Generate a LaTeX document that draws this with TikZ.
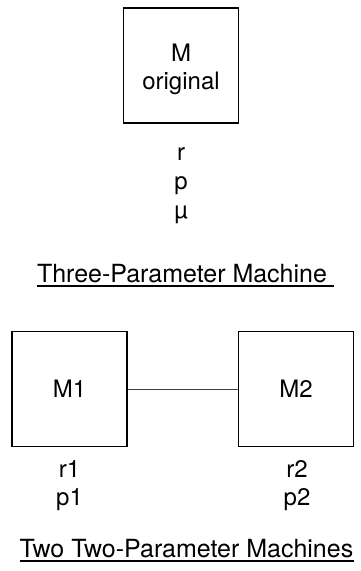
\documentclass[tikz,border=0pt]{standalone}
\usepackage{fontspec}
\setmainfont{TeX Gyre Heros}
\begin{document}
\begin{tikzpicture}[x=1pt,y=-1pt,
  machine/.style={draw, line width=1.3pt, minimum width=115pt, minimum height=115pt, inner sep=0pt},
  lbl/.style={inner sep=0pt, anchor=base, font=\fontsize{24}{28}\selectfont},
  ttl/.style={lbl, font=\fontsize{25}{29}\selectfont},
  link/.style={draw=black!75, line width=0.9pt},
  uline/.style={line width=1.1pt}]
\useasboundingbox (0,0) rectangle (360,571);
% top machine
\node[machine] (M) at (181,65.5) {};
\node[lbl] (Mt1) at (181,61) {M};
\node[lbl] (Mt2) at (181,89) {original};
\node[lbl] (pr) at (181,160) {r};
\node[lbl] (pp) at (181,189) {p};
\node[lbl] (pmu) at (181,218) {µ};
\node[ttl] (t1) at (182,282) {Three-Parameter Machine};
\draw[uline] ([yshift=-4pt]t1.base west) -- ([yshift=-4pt,xshift=7pt]t1.base east);
% bottom machines
\node[machine] (M1) at (69.5,389) {};
\node[machine] (M2) at (296,389) {};
\node[lbl] (M1t) at (69.5,397) {M1};
\node[lbl] (M2t) at (296,397) {M2};
\draw[link] (M1.east) -- (M2.west);
\node[lbl] (r1) at (69.5,477) {r1};
\node[lbl] (p1) at (69.5,505) {p1};
\node[lbl] (r2) at (297,477) {r2};
\node[lbl] (p2) at (297,505) {p2};
\node[ttl] (t2) at (186.5,557) {Two Two-Parameter Machines};
\draw[uline] ([yshift=-4pt]t2.base west) -- ([yshift=-4pt]t2.base east);
\end{tikzpicture}
\end{document}
